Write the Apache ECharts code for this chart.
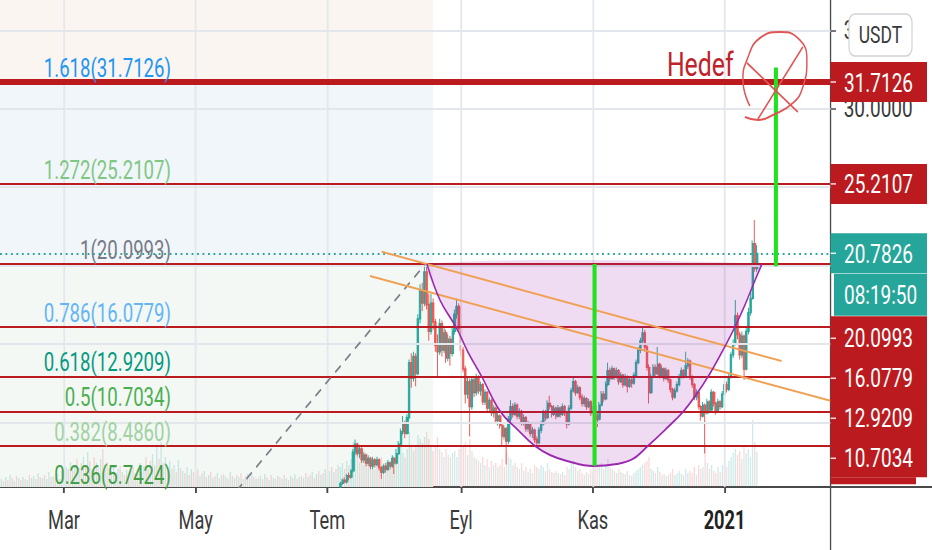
<!DOCTYPE html>
<html><head><meta charset="utf-8">
<script src="https://cdn.jsdelivr.net/npm/echarts@6/dist/echarts.min.js"></script>
<style>
html,body{margin:0;padding:0;background:#fff;overflow:hidden}
#wrap{width:932px;height:550px;overflow:hidden;position:relative;background:#fff}
#main{width:1277px;height:550px;transform:scaleX(0.72983);transform-origin:0 0}
</style></head>
<body><div id="wrap"><div id="main"></div></div>
<script>
const SX = 932 / 1277;
const FONT = 'Roboto, "Noto Sans", sans-serif';

// ---- axes (x = day number, 0 = 2020-01-01) ----
const xMinDay = 30.36, xMaxDay = 415.1;
const yMinPrice = 5.87, yMaxPrice = 36.945;
const monthTickDays = [60, 121, 182, 244, 305, 366];
const monthLabels = ['Mar', 'May', 'Tem', 'Eyl', 'Kas', '2021'];
const priceTicks = [10, 15, 20, 25, 30, 35];
const priceTickLabels = [30, 35];   // the others are covered by price boxes

// ---- fibonacci extension ----
const fibRatios = ['1.618', '1.272', '1', '0.786', '0.618', '0.5', '0.382', '0.236'];
const fibPrices = [31.7126, 25.2107, 20.0993, 16.0779, 12.9209, 10.7034, 8.4860, 5.7424];
const fibZoneEndDay = 231;

// ---- daily candles [open, close, low, high], first = day 188 (2020-07-07) ----
const candleStartDay = 188;
const candles = [
[5.9,6.1,5.8,6.2],[6.1,6.3,6.0,6.4],[6.3,6.2,6.1,6.5],[6.2,6.6,6.1,6.7],[6.6,6.5,6.3,6.8],
[6.5,6.9,6.4,7.0],[6.9,8.1,6.8,8.3],[8.1,8.6,7.9,8.9],[8.6,8.0,7.8,8.7],[8.0,8.3,7.7,8.5],
[8.3,7.6,7.4,8.4],[7.6,7.9,7.4,8.1],[7.9,7.4,7.2,8.0],[7.4,7.7,7.2,7.9],[7.7,7.2,7.0,7.8],
[7.2,7.6,7.0,7.8],[7.6,7.3,7.1,7.7],[7.3,7.6,7.2,7.8],[7.6,7.1,6.9,7.7],[7.1,6.8,6.4,7.2],
[6.8,7.2,6.7,7.3],[7.2,7.0,6.8,7.4],[7.0,7.4,6.9,7.6],[7.4,7.2,7.0,7.5],[7.2,7.7,7.1,7.9],
[7.7,7.4,6.7,7.8],[7.4,8.0,7.3,8.3],[8.0,8.6,7.9,8.8],[8.6,9.4,8.5,9.6],[9.4,9.9,9.2,10.4],
[9.9,9.3,9.0,10.1],[9.3,10.3,9.2,10.5],[10.3,13.8,10.2,14.0],[13.8,12.8,12.2,14.4],[12.8,14.2,12.6,14.5],
[14.2,13.1,12.3,14.4],[13.1,16.6,13.0,16.9],[16.6,18.4,16.3,18.8],[18.4,17.6,17.1,18.9],[17.6,19.6,17.4,20.1],
[19.6,17.5,17.2,20.0],[17.5,15.8,15.2,18.2],[15.8,17.6,15.6,18.2],[17.6,16.4,15.9,17.9],[16.4,14.9,14.5,16.6],
[14.9,14.5,12.9,15.6],[14.5,16.3,14.3,16.6],[16.3,14.6,14.2,16.5],[14.6,15.7,14.4,16.0],[15.7,14.1,13.8,15.9],
[14.1,15.3,13.9,15.6],[15.3,14.4,13.6,15.5],[14.4,15.8,14.2,16.1],[15.8,16.9,15.6,17.2],[16.9,17.4,16.6,17.9],
[17.4,16.0,15.7,17.6],[16.0,14.6,14.2,16.3],[14.6,13.4,13.2,14.8],[13.4,11.8,11.2,13.6],[11.8,12.6,11.5,12.9],
[12.6,11.0,9.1,12.8],[11.0,12.7,10.8,12.9],[12.7,11.9,11.6,12.9],[11.9,12.9,11.7,13.1],[12.9,12.0,11.8,13.0],
[12.0,12.4,11.7,12.6],[12.4,11.3,11.1,12.5],[11.3,11.9,11.1,12.1],[11.9,10.9,10.6,12.0],[10.9,11.4,10.7,11.6],
[11.4,10.6,10.4,11.5],[10.6,10.9,10.3,11.1],[10.9,10.1,9.9,11.0],[10.1,10.4,9.8,10.6],[10.4,9.8,9.6,10.5],
[9.8,9.1,8.5,9.9],[9.1,9.6,8.9,9.8],[9.6,8.8,7.3,9.7],[8.8,10.2,8.6,10.4],[10.2,11.0,10.0,11.4],
[11.0,10.5,10.3,11.2],[10.5,11.1,10.4,11.3],[11.1,10.4,10.2,11.2],[10.4,10.7,10.2,10.9],[10.7,10.0,9.8,10.8],
[10.0,10.3,9.8,10.5],[10.3,9.6,9.4,10.4],[9.6,9.9,9.4,10.1],[9.9,9.3,9.1,10.0],[9.3,9.5,9.0,9.7],
[9.5,8.9,8.7,9.6],[8.9,8.7,8.4,9.1],[8.7,9.5,8.6,9.7],[9.5,9.9,9.3,10.1],[9.9,10.6,9.8,10.8],
[10.6,10.3,10.1,10.8],[10.3,11.2,10.2,11.4],[11.2,11.0,10.8,11.7],[11.0,10.5,10.3,11.1],[10.5,10.9,10.4,11.1],
[10.9,10.4,10.2,11.0],[10.4,10.9,10.3,11.1],[10.9,10.5,10.3,11.0],[10.5,11.0,10.4,11.2],[11.0,10.6,10.4,11.1],
[10.6,9.9,9.6,10.7],[9.9,10.9,9.8,11.1],[10.9,12.0,10.8,12.2],[12.0,12.6,11.9,12.9],[12.6,11.9,11.7,12.7],
[11.9,12.2,11.8,12.4],[12.2,11.6,11.4,12.3],[11.6,11.2,11.0,11.8],[11.2,11.5,11.0,11.7],[11.5,11.0,10.8,11.6],
[11.0,11.3,10.9,11.5],[11.3,10.6,10.4,11.4],[10.6,11.0,10.5,11.2],[11.0,10.4,9.9,11.1],[10.4,10.2,9.7,10.6],
[10.2,11.1,10.1,11.3],[11.1,11.8,11.0,12.0],[11.8,11.5,11.3,12.0],[11.5,12.4,11.4,12.6],[12.4,13.3,12.3,13.8],
[13.3,12.8,12.6,13.5],[12.8,13.4,12.7,13.6],[13.4,12.9,12.7,13.5],[12.9,13.3,12.8,13.5],[13.3,12.6,12.4,13.4],
[12.6,13.0,12.5,13.2],[13.0,12.4,12.2,13.1],[12.4,12.9,12.3,13.1],[12.9,12.3,11.9,13.0],[12.3,12.7,12.2,12.9],
[12.7,12.5,12.2,12.9],[12.5,13.0,12.4,13.2],[13.0,13.8,12.9,14.0],[13.8,14.6,13.7,14.8],[14.6,15.2,14.4,15.4],
[15.2,15.7,15.0,16.1],[15.7,14.8,14.5,15.9],[14.8,13.5,13.3,15.0],[13.5,11.9,11.2,13.7],[11.9,12.9,11.8,13.1],
[12.9,13.5,12.8,13.7],[13.5,13.1,12.9,13.7],[13.1,13.7,13.0,14.8],[13.7,13.0,12.8,13.8],[13.0,13.4,12.9,13.6],
[13.4,12.8,12.6,13.5],[12.8,13.3,12.7,13.5],[13.3,12.7,12.5,13.4],[12.7,12.1,11.9,12.8],[12.1,11.6,11.4,12.2],
[11.6,12.0,11.5,12.2],[12.0,12.4,11.9,12.6],[12.4,12.9,12.3,13.1],[12.9,13.3,12.8,13.5],[13.3,13.0,12.8,13.4],
[13.0,13.6,12.9,14.5],[13.6,13.9,13.4,14.1],[13.9,12.9,12.7,14.0],[12.9,12.4,12.2,13.0],[12.4,11.6,11.4,12.5],
[11.6,11.9,11.4,12.1],[11.9,11.0,10.8,12.0],[11.0,10.4,10.1,11.1],[10.4,11.1,10.3,11.3],[11.1,10.6,8.0,11.2],
[10.6,11.3,10.5,11.5],[11.3,10.8,10.6,11.4],[10.8,11.9,10.7,12.1],[11.9,11.2,11.0,12.0],[11.2,10.7,10.5,11.3],
[10.7,11.3,10.6,11.5],[11.3,11.0,10.8,11.4],[11.0,11.8,10.9,12.0],[11.8,12.4,11.7,12.6],[12.4,12.1,11.9,12.6],
[12.1,12.9,12.0,13.1],[12.9,14.3,12.8,14.5],[14.3,15.0,14.1,15.3],[15.0,16.8,14.9,17.8],[16.8,15.6,15.3,17.0],
[15.6,14.3,14.0,15.8],[14.3,15.5,14.1,15.8],[15.5,13.4,12.7,15.6],[13.4,15.8,13.3,16.0],[15.8,17.0,15.6,17.3],
[17.0,17.9,16.8,18.3],[17.9,21.4,17.8,21.6],[21.4,19.8,19.6,22.9],[19.8,20.7826,19.6,21.3]
];

// ---- daily volume (sign = candle direction), first = day 31 ----
const volumeStartDay = 31;
const volumes = [
8,-6,10,-7,12,-9,6,-11,9,-7, 10,-8,7,-12,9,11,-8,14,-10,9, -12,8,15,-10,11,-9,13,-8,16,
-14,20,-18,25,-16,22,-28,19,-24,30, -22,35,-26,18,-30,24,-20,28,-38,22,
-25,19,-16,22,-14,18,-21,15,-12,17, -13,16,-20,14,-18,24,-15,21,-30,18,
-26,33,-22,40,-28,45,-24,30,-20,26, -18,22,-15,27,-19,16,-14,20,-12,18,
-15,13,-18,11,-14,16,-10,12,-15,9, -11,14,-9,12,-13,10,-8,15,-11,9,
-12,10,-14,8,-11,13,-9,12,-10,8, -9,11,-8,13,-10,7,-12,9,-8,11,
-10,8,-12,9,-7,11,-9,13,-8,10, -11,9,-14,10,-12,15,-9,13,-16,12,
-14,18,-12,16,-20,15,-18,22,
20,24,-18,26,-22,28,45,38,-30,25, -32,22,-28,20,-25,24,-18,22,-26,-30,
24,-20,26,-18,28,-24,32,36,40,34, -30,38,55,-42,36,-40,52,48,-44,50,
-55,-48,40,-36,-42,-50,38,-35,30,-38, 32,-30,34,36,30,-38,-42,-40,-45,32,
-48,36,-30,28,-26,24,-30,22,-28,20, -26,22,-24,20,-22,-28,20,-35,30,28,
-22,24,-20,18,-24,16,-20,15,-18,14, -22,-20,18,22,20,-16,24,-18,-15,14,
-16,14,-13,15,-12,-20,18,24,26,-20, 16,-18,-14,12,-15,13,-18,14,-40,-22,
20,24,-18,22,28,-20,18,-16,14,-18, 15,-14,13,-16,12,-11,14,16,18,20,
22,-24,-26,-30,18,16,-14,20,-15,12, -13,11,-12,-14,-18,12,14,16,13,-12,
18,14,-16,-14,-20,12,-22,-18,20,-40, 24,-18,22,-16,-14,20,-15,22,24,-20,
26,30,34,38,-32,-36,28,-40,34,38, 30,67,-45,35
];

// ---- drawings (day, price) ----
const lastPrice = 20.7826;
const countdownText = '08:19:50';
const currencyText = 'USDT';
const stackedAxisLabels = [20.0993, 16.0779, 12.9209, 10.7034];
const trendDays = [139.9, 227.4], trendPrices = [5.62, 20.0993];
const chanADays = [207.15, 392.42], chanAPrices = [20.885, 13.91];
const chanBDays = [201.74, 415.1], chanBPrices = [19.334, 11.37];
const cupDays = [228.14,234.16,241.57,247.13,253.61,261.95,270.29,278.16,285.11,292.98,305.02,316.14,323.55,330.50,338.38,346.72,352.74,358.29,364.78,370.80,375.43,379.60,383.31];
const cupPrices = [20.10,17.80,16.08,14.48,12.89,10.72,9.51,8.49,7.91,7.53,7.21,7.34,7.66,8.49,9.51,10.66,11.74,12.89,14.48,16.08,17.48,18.89,20.10];
const depthDays = [305.8, 305.8], depthPrices = [20.0993, 7.23];
const targetDays = [389.8, 389.8], targetPrices = [32.63, 19.95];
const circleDays = [377.74,374.5,376.35,382.37,391.63,400.9,404.14,402.29,397.66,388.4,381.44,375.43];
const circlePrices = [30.18,31.84,33.12,34.52,34.90,34.39,33.12,31.40,30.37,29.61,29.29,29.48];
const cross1Days = [376.35, 399.97], cross1Prices = [32.93, 29.80];
const cross2Days = [402.29, 381.44], cross2Prices = [33.95, 29.35];
const noteText = 'Hedef', noteDay = 339.3, notePrice = 32.86;

const zip = (a, b) => a.map((v, i) => [v, b[i]]);
const UP = '#26a69a', DOWN = '#ef5350', FIBRED = '#bb1b1f';

const chart = echarts.init(document.getElementById('main'), null, {renderer: 'svg'});

function lineSeries(data, color, width, extra) {
  return Object.assign({
    type: 'line', data: data, symbol: 'none', silent: true, animation: false,
    lineStyle: {color: color, width: width}, z: 8
  }, extra || {});
}

const option = {
  animation: false,
  backgroundColor: '#ffffff',
  grid: {left: 0, right: 139, top: 0, bottom: 63},
  xAxis: {
    type: 'value', min: xMinDay, max: xMaxDay,
    axisLine: {show: true, lineStyle: {color: '#4a4a4a', width: 2}},
    axisTick: {show: true, customValues: monthTickDays, length: 6, lineStyle: {color: '#4a4a4a', width: 2.6}},
    splitLine: {show: false},
    axisLabel: {
      customValues: monthTickDays, margin: 21,
      fontFamily: FONT, fontSize: 25, color: '#3a3a3a',
      formatter: function (v) {
        const t = monthLabels[monthTickDays.indexOf(Math.round(v))];
        return /^\d{4}$/.test(t) ? '{b|' + t + '}' : t;
      },
      rich: {b: {fontFamily: FONT, fontSize: 25, fontWeight: 'bold', color: '#222'}}
    }
  },
  yAxis: [{
    type: 'value', position: 'right', min: yMinPrice, max: yMaxPrice,
    axisLine: {show: true, lineStyle: {color: '#4a4a4a', width: 1.8}},
    axisTick: {show: true, customValues: priceTicks, length: 7.5, lineStyle: {color: '#4a4a4a', width: 1.5}},
    splitLine: {show: false},
    axisLabel: {customValues: priceTickLabels, margin: 18, fontFamily: FONT, fontSize: 26, color: '#3a3a3a',
      formatter: v => Number(v).toFixed(4)}
  }, {
    type: 'value', show: false, min: 0, max: 487,
    splitLine: {show: false}
  }],
  series: [
    // fib background zones
    {type: 'line', data: [[xMinDay, yMinPrice]], symbol: 'none', silent: true, z: 0,
     lineStyle: {opacity: 0},
     markArea: {silent: true, data: [
       [{xAxis: xMinDay, yAxis: fibPrices[0], itemStyle: {color: '#fbf5f2'}}, {xAxis: fibZoneEndDay, yAxis: yMaxPrice}],
       [{xAxis: xMinDay, yAxis: fibPrices[2], itemStyle: {color: '#f0f6fa'}}, {xAxis: fibZoneEndDay, yAxis: fibPrices[0]}],
       [{xAxis: xMinDay, yAxis: yMinPrice, itemStyle: {color: '#f3f8f5'}}, {xAxis: fibZoneEndDay, yAxis: fibPrices[2]}]
     ]}},
    // grid lines
    {type: 'line', data: [[xMinDay, yMinPrice]], symbol: 'none', silent: true, z: 1,
     lineStyle: {opacity: 0},
     markLine: {silent: true, symbol: ['none', 'none'], label: {show: false},
       data: monthTickDays.map(d => ({xAxis: d, lineStyle: {color: '#e3e6ea', width: 2.4, type: 'solid'}}))
         .concat(priceTicks.map(p => ({yAxis: p, lineStyle: {color: '#e3e6ea', width: 1.8, type: 'solid'}})))}},
    // volume
    {type: 'bar', yAxisIndex: 1, silent: true, z: 2, barWidth: 1.8,
     data: volumes.map((v, i) => ({value: [volumeStartDay + i, Math.abs(v)],
       itemStyle: {color: v >= 0 ? 'rgba(38,166,154,0.22)' : 'rgba(239,83,80,0.22)'}}))},
    // candles
    {type: 'candlestick', silent: true, z: 3, barWidth: 2.6,
     encode: {x: 0, y: [1, 2, 3, 4]},
     data: candles.map((c, i) => [candleStartDay + i, c[0], c[1], c[2], c[3]]),
     itemStyle: {color: UP, color0: DOWN, borderColor: UP, borderColor0: DOWN, borderWidth: 1.3}},
    // fib lines + current price line
    {type: 'line', data: [[xMinDay, yMinPrice]], symbol: 'none', silent: true, z: 5,
     lineStyle: {opacity: 0},
     markLine: {silent: true, symbol: ['none', 'none'], label: {show: false},
       data: fibPrices.filter(p => p > yMinPrice).map((p, i) => ({yAxis: p,
         lineStyle: {color: FIBRED, width: i === 0 ? 6 : 2, type: 'solid'}}))
         .concat([{yAxis: lastPrice, lineStyle: {color: UP, width: 1.8, type: [2.5, 5]}}])}},
    // cup fill
    {type: 'custom', silent: true, z: 5, data: [[cupDays[0], cupPrices[0]]],
     renderItem: function (params, api) {
       const pts = cupDays.map((d, i) => api.coord([d, cupPrices[i]]));
       return {type: 'polygon', shape: {points: pts, smooth: 0.2}, style: {fill: 'rgba(156,39,176,0.16)'}};
     }},
    lineSeries(zip(trendDays, trendPrices), '#7b7e88', 2, {lineStyle: {color: '#7b7e88', width: 2, type: [10, 8]}}),
    lineSeries(zip(chanADays, chanAPrices), '#f0a052', 2),
    lineSeries(zip(chanBDays, chanBPrices), '#f0a052', 2),
    lineSeries(zip(cupDays, cupPrices), '#9c27b0', 2, {smooth: 0.4}),
    lineSeries(zip(depthDays, depthPrices), '#1fe31f', 5.5, {z: 9}),
    lineSeries(zip(targetDays, targetPrices), '#1fe31f', 5.5, {z: 9}),
    lineSeries(zip(circleDays, circlePrices), '#e05555', 2, {smooth: 0.5, z: 10, clip: false}),
    lineSeries(zip(cross1Days, cross1Prices), '#e05555', 2, {z: 10, clip: false}),
    lineSeries(zip(cross2Days, cross2Prices), '#e05555', 2, {z: 10, clip: false})
  ]
};
chart.setOption(option);

function buildGraphics() {
  const yPx = v => chart.convertToPixel({yAxisIndex: 0}, v);
  const gridRight = chart.convertToPixel({xAxisIndex: 0}, xMaxDay);
  const gridBottom = yPx(yMinPrice);
  const boxW = 927 / SX - gridRight;
  const textX = 844 / SX;
  const g = [];
  const txt = (text, x, y, color, size, align, weight) => ({
    type: 'text', z: 120, silent: true,
    style: {text: text, x: x, y: y, fill: color, fontSize: size, fontFamily: FONT, fontWeight: weight || 'normal',
      align: align, textAlign: align, verticalAlign: 'middle', textVerticalAlign: 'middle'}
  });
  const rect = (x, y, w, h, fill, extra) => Object.assign({type: 'rect', z: 110, silent: true,
    shape: {x: x, y: y, width: w, height: h}, style: {fill: fill}}, extra || {});
  const tick = (y) => ({type: 'line', z: 121, silent: true,
    shape: {x1: gridRight, y1: y, x2: gridRight + 7.5, y2: y}, style: {stroke: 'rgba(255,255,255,0.85)', lineWidth: 1.5}});

  // fib labels
  const fibColors = ['#2196f3', '#81c784', '#787b86', '#64b5f6', '#089981', '#4caf50', '#a0d2a2', '#43a047'];
  fibPrices.forEach((p, i) => {
    g.push(txt(fibRatios[i] + '(' + p.toFixed(4) + ')', 171 / SX, yPx(p) - 14.5, fibColors[i], 25.5, 'right'));
  });
  // note text
  const np = chart.convertToPixel({gridIndex: 0}, [noteDay, notePrice]);
  g.push(txt(noteText, np[0], np[1], '#bf2229', 34, 'left'));

  // axis extensions
  g.push({type: 'line', z: 100, silent: true, shape: {x1: gridRight, y1: gridBottom, x2: 1277, y2: gridBottom},
    style: {stroke: '#4a4a4a', lineWidth: 2}});
  g.push({type: 'line', z: 100, silent: true, shape: {x1: gridRight, y1: gridBottom, x2: gridRight, y2: 550},
    style: {stroke: '#4a4a4a', lineWidth: 1.8}});

  // price boxes
  [[fibPrices[0], FIBRED], [fibPrices[1], FIBRED], [lastPrice, UP]].forEach(([p, col]) => {
    const y = yPx(p);
    g.push(rect(gridRight, y - 20, boxW, 40, col));
    g.push(tick(y));
    g.push(txt(p.toFixed(4), textX, y + 1, '#ffffff', 26, 'left'));
  });
  const lastY = yPx(lastPrice);
  const cdTop = lastY + 20.5;
  g.push(rect(834 / SX, cdTop, 927 / SX - 834 / SX, 42, UP));
  g.push(txt(countdownText, textX, cdTop + 21.5, '#ffffff', 26, 'left'));
  const blockTop = cdTop + 42.5;
  g.push(rect(gridRight, blockTop, boxW, 161, FIBRED));
  g.push(rect(gridRight, blockTop + 161, 916 / SX - gridRight, 7, FIBRED));
  stackedAxisLabels.forEach((p, k) => {
    const y = blockTop + 22 + 40 * k;
    g.push(tick(y));
    g.push(txt(p.toFixed(4), textX, y, '#ffffff', 26, 'left'));
  });

  // currency button
  g.push(rect(849 / SX, 14, (912 - 849) / SX, 42, '#ffffff',
    {shape: {x: 849 / SX, y: 14, width: (912 - 849) / SX, height: 42, r: 8},
     style: {fill: '#ffffff', stroke: '#cfd2d8', lineWidth: 1.6}}));
  g.push(txt(currencyText, 880.5 / SX, 35.5, '#3a3a3a', 24, 'center'));

  chart.setOption({graphic: {elements: g}});
}
buildGraphics();
</script>
</body></html>
